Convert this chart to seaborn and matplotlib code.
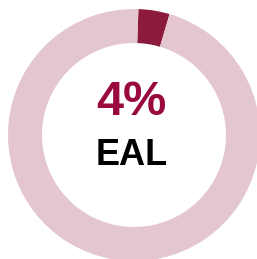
import matplotlib
matplotlib.use("Agg")
import matplotlib.pyplot as plt
import seaborn as sns

labels = ["EAL", "Other"]
values = [4, 96]
colors = ["#8c1a3c", "#e4c6cf"]
pct_text = "4%"
label_text = "EAL"

sns.set_theme(style="white")
plt.rcParams['font.family'] = ['Liberation Sans', 'DejaVu Sans']

fig = plt.figure(figsize=(2.57, 2.59), dpi=100)
ax = fig.add_axes([8/257, -2/259, 252/257, 252/259])
ax.pie(values, colors=colors, startangle=88, counterclock=False, radius=1,
       wedgeprops=dict(width=0.27, edgecolor='none'))
ax.set_xlim(-1, 1)
ax.set_ylim(-1, 1)
ax.axis('off')

ax.text(-0.02, 0.26, pct_text, ha='center', va='center', fontsize=35,
        fontweight='bold', color='#9b0a3f')
ax.text(-0.02, -0.16, label_text, ha='center', va='center', fontsize=26,
        fontweight='bold', color='black')

fig.savefig("out.png", dpi=100)
